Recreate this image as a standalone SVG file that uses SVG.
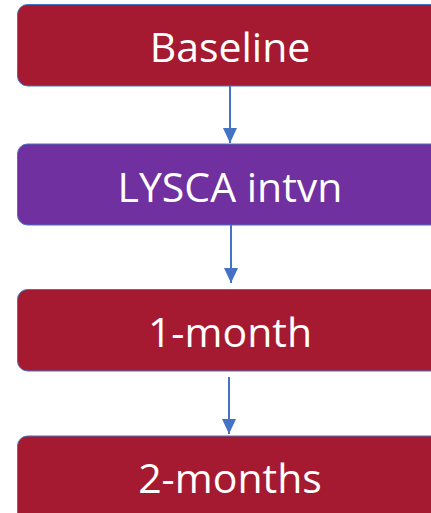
<svg xmlns="http://www.w3.org/2000/svg" width="431" height="513" viewBox="0 0 431 513">
<style>
.box{stroke:#4472C4;stroke-width:1}
.red{fill:#A51A30}
.purple{fill:#7030A0}
.lbl{font-family:"Open Sans","Liberation Sans",sans-serif;font-size:41px;fill:#FFFFFF;text-anchor:middle}
.conn{stroke:#4472C4;stroke-width:2;fill:none}
</style>
<defs>
<marker id="arr" markerUnits="userSpaceOnUse" markerWidth="16" markerHeight="16" refX="15" refY="7" orient="auto">
<path d="M0,0 L15,7 L0,14 Z" fill="#4472C4"/>
</marker>
</defs>
<rect width="431" height="513" fill="#FFFFFF"/>
<g id="connectors">
<line class="conn" x1="230" y1="86" x2="230" y2="143" marker-end="url(#arr)"/>
<line class="conn" x1="231" y1="225" x2="231" y2="283" marker-end="url(#arr)"/>
<line class="conn" x1="229" y1="377" x2="229" y2="434" marker-end="url(#arr)"/>
</g>
<g id="baseline">
<rect class="box red" x="17.5" y="4.5" width="425" height="81.5" rx="10"/>
<text class="lbl" x="230" y="62">Baseline</text>
</g>
<g id="lysca">
<rect class="box purple" x="17.5" y="144" width="425" height="81" rx="10"/>
<text class="lbl" x="230" y="202">LYSCA intvn</text>
</g>
<g id="month1">
<rect class="box red" x="17.5" y="289.5" width="425" height="81.5" rx="10"/>
<text class="lbl" x="230" y="347">1-month</text>
</g>
<g id="month2">
<rect class="box red" x="17.5" y="436" width="425" height="90" rx="10"/>
<text class="lbl" x="230" y="493">2-months</text>
</g>
</svg>
